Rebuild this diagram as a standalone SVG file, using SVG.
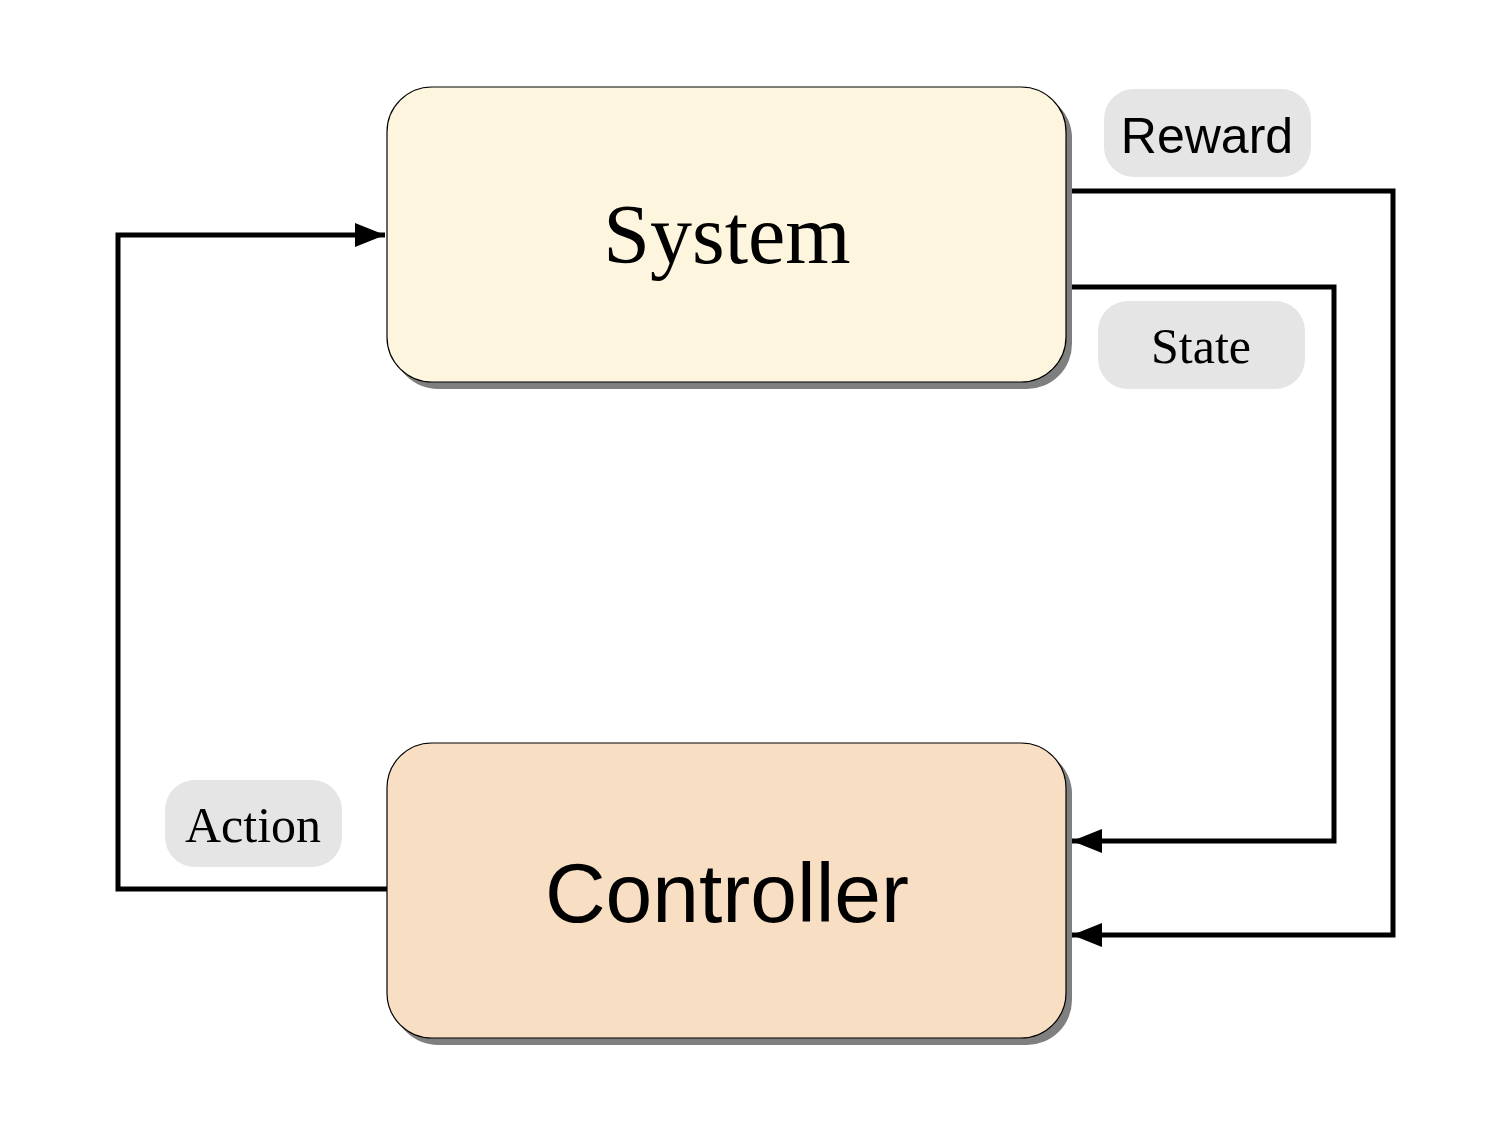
<svg xmlns="http://www.w3.org/2000/svg" width="1500" height="1125" viewBox="0 0 1500 1125">
<style>
.node{stroke:#000;stroke-width:1.2}
.shadow{fill:#7f7f7f}
.lbl{fill:#e5e5e5}
.conn{fill:none;stroke:#000;stroke-width:5}
.serif{font-family:"Liberation Serif",serif}
.sans{font-family:"Liberation Sans",sans-serif}
</style>
<defs>
<marker id="arr" markerUnits="userSpaceOnUse" markerWidth="32" markerHeight="24" refX="30" refY="12" orient="auto">
<path d="M0,0 L30,12 L0,24 Z" fill="#000"/>
</marker>
</defs>
<rect width="1500" height="1125" fill="#fff"/>
<g id="connectors">
<path class="conn" d="M1070,191 H1393 V935 H1072" marker-end="url(#arr)"/>
<path class="conn" d="M1070,287 H1334 V841 H1072" marker-end="url(#arr)"/>
<path class="conn" d="M387,889 H118 V235 H385" marker-end="url(#arr)"/>
</g>
<g id="system">
<rect class="shadow" x="393" y="93" width="679" height="296" rx="45"/>
<rect class="node" x="387" y="87" width="679" height="295" rx="45" fill="#fdf5de"/>
<text class="serif" x="727" y="263" font-size="84" text-anchor="middle">System</text>
</g>
<g id="controller">
<rect class="shadow" x="393" y="749" width="679" height="296" rx="45"/>
<rect class="node" x="387" y="743" width="679" height="295" rx="45" fill="#f8dfc4"/>
<text class="sans" x="727" y="922" font-size="84" text-anchor="middle">Controller</text>
</g>
<g id="reward-label">
<rect class="lbl" x="1104" y="89" width="207" height="88" rx="30"/>
<text class="sans" x="1207" y="153" font-size="50" text-anchor="middle">Reward</text>
</g>
<g id="state-label">
<rect class="lbl" x="1098" y="301" width="207" height="88" rx="30"/>
<text class="serif" x="1201" y="363" font-size="50" text-anchor="middle">State</text>
</g>
<g id="action-label">
<rect class="lbl" x="165" y="780" width="177" height="87" rx="30"/>
<text class="serif" x="253" y="842" font-size="50" text-anchor="middle">Action</text>
</g>
</svg>
